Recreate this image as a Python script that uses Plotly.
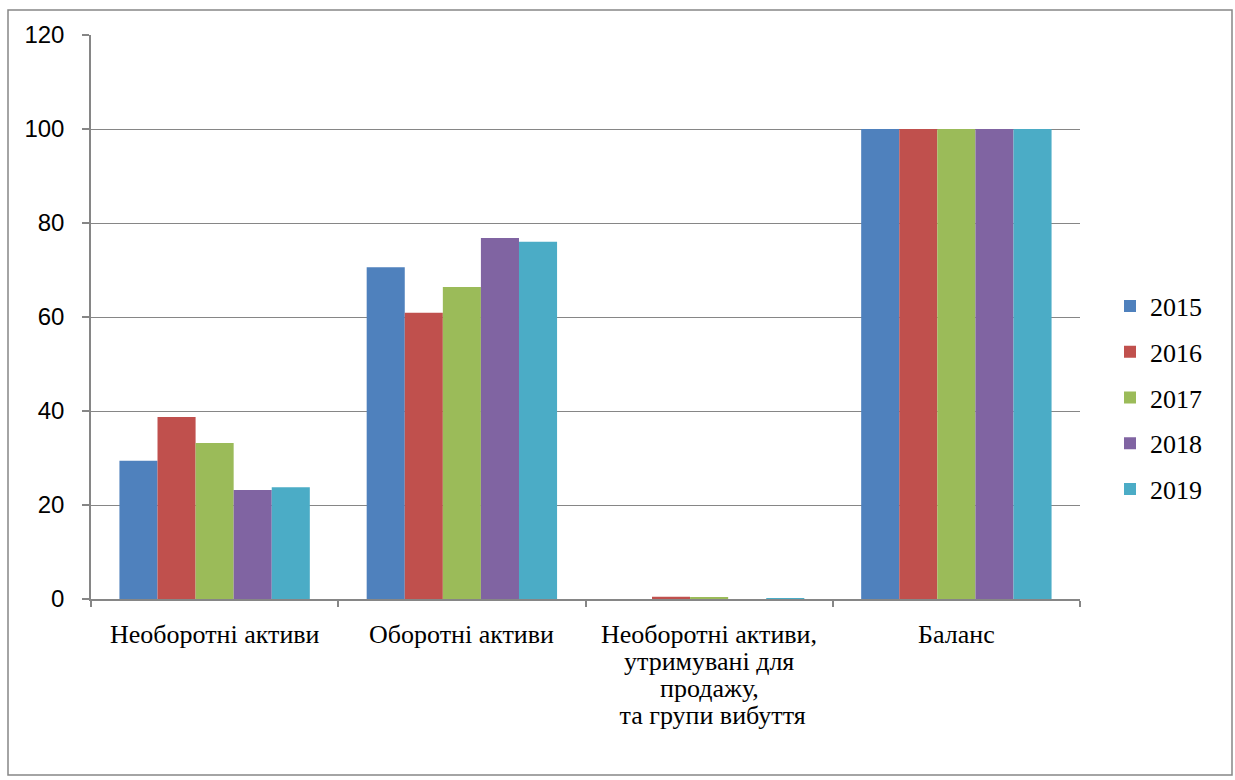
import plotly.graph_objects as go

categories = ["Необоротні активи", "Оборотні активи",
              "Необоротні активи,<br>утримувані для<br>продажу,<br> та групи вибуття", "Баланс"]
years = ["2015", "2016", "2017", "2018", "2019"]
values = {
    "2015": [29.4, 70.6, 0.0, 100],
    "2016": [38.7, 60.9, 0.5, 100],
    "2017": [33.2, 66.4, 0.4, 100],
    "2018": [23.2, 76.8, 0.0, 100],
    "2019": [23.8, 76.0, 0.2, 100],
}
colors = ["#4F81BD", "#C0504D", "#9BBB59", "#8064A2", "#4BACC6"]

fig = go.Figure()
for i, y in enumerate(years):
    fig.add_trace(go.Bar(x=categories, y=values[y], name=y, marker_color=colors[i],
                         marker_line_width=0, legendgroup=y))

L, R, T, B = 91, 155, 35, 181
W, H = 1235, 780
pw, ph = W - L - R, H - T - B

serif = "Liberation Serif, Times New Roman, serif"

fig.update_layout(
    width=W, height=H,
    margin=dict(l=L, r=R, t=T, b=B),
    paper_bgcolor="white", plot_bgcolor="white",
    barmode="group", bargap=0.23, bargroupgap=0,
    showlegend=True,
    legend=dict(x=(1110 - L) / pw, y=(599 - 398) / ph, xanchor="left", yanchor="middle",
                font=dict(family=serif, size=26, color="black"),
                tracegroupgap=9, itemwidth=30),
    xaxis=dict(showline=True, linecolor="#868686", linewidth=1.5, ticks="outside",
               tickson="boundaries", ticklen=6, tickcolor="#868686", tickwidth=1.5,
               showticklabels=False, showgrid=False),
    yaxis=dict(range=[0, 120], dtick=20, showline=True, linecolor="#868686", linewidth=1.5,
               ticks="outside", ticklen=7, tickcolor="#868686", tickwidth=1.5,
               gridcolor="#868686", gridwidth=1.2,
               tickfont=dict(family="Liberation Sans, Arial, sans-serif", size=24, color="black"),
               ticklabelstandoff=13,
               zeroline=False),
)

# category labels (tight single line spacing like the original)
line_step = 27
for cat in categories:
    for j, line in enumerate(cat.split("<br>")):
        fig.add_annotation(x=cat, xref="x", y=0, yref="paper", text=line,
                           showarrow=False, yanchor="middle", xanchor="center",
                           yshift=-(35 + j * line_step),
                           font=dict(family=serif, size=26, color="black"))

fig.add_shape(type="rect", xref="paper", yref="paper",
              x0=(8 - L) / pw, x1=(1232 - L) / pw,
              y0=(599 - 775) / ph, y1=(599 - 10) / ph,
              line=dict(color="#868686", width=1.5), layer="below")

fig.write_html("out.html")
